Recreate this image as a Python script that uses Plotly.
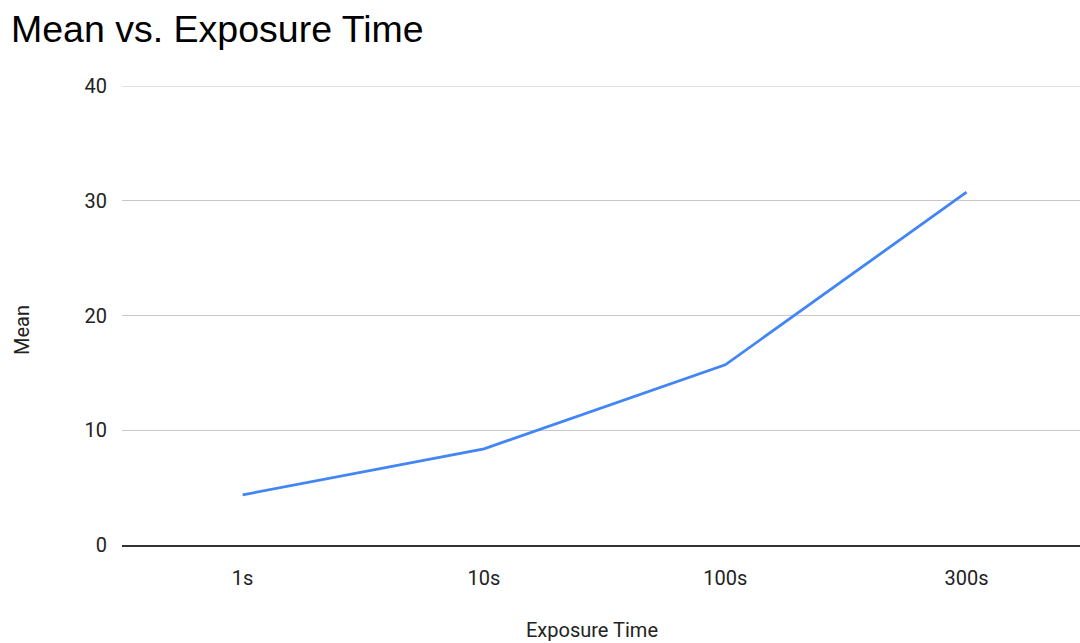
import plotly.graph_objects as go

# Exposure settings and the mean value measured at each
exposure_times = ["1s", "10s", "100s", "300s"]
mean_values = [4.37, 8.38, 15.7, 30.75]

y_ticks = [0, 10, 20, 30, 40]

W, H = 1080, 643
ML, MR, MT, MB = 122, 0, 86, 98
GRID = "#c8c8c8"

fig = go.Figure(
    go.Scatter(
        x=exposure_times,
        y=mean_values,
        mode="lines",
        line=dict(color="#4285F4", width=2.8),
        hoverinfo="x+y",
    )
)

# plotly skips the gridline sitting on the top edge of the plot, so draw it
fig.add_shape(
    type="line",
    xref="paper",
    yref="y",
    x0=0,
    x1=1,
    y0=y_ticks[-1],
    y1=y_ticks[-1],
    line=dict(color=GRID, width=1),
    layer="below",
)

fig.update_layout(
    width=W,
    height=H,
    margin=dict(l=ML, r=MR, t=MT, b=MB, pad=0),
    paper_bgcolor="white",
    plot_bgcolor="white",
    showlegend=False,
    title=dict(
        text="Mean vs. Exposure Time",
        font=dict(family="Liberation Sans, Arial, sans-serif", size=37.5, color="#000000"),
        x=11 / W,
        xanchor="left",
        xref="container",
        y=1 - 29 / H,
        yanchor="middle",
        yref="container",
    ),
    xaxis=dict(
        type="category",
        range=[-0.5, 3.47],
        showgrid=False,
        showline=True,
        linecolor="#333333",
        linewidth=1.5,
        ticks="",
        tickfont=dict(family="Roboto, Arial, sans-serif", size=20, color="#222222"),
        ticklabelstandoff=14,
        zeroline=False,
    ),
    yaxis=dict(
        range=[0, 40],
        tickvals=y_ticks,
        showgrid=True,
        gridcolor=GRID,
        gridwidth=1,
        zeroline=False,
        showline=False,
        ticks="",
        tickfont=dict(family="Roboto, Arial, sans-serif", size=20, color="#222222"),
        ticklabelstandoff=14,
    ),
    annotations=[
        dict(
            text="Exposure Time",
            xref="paper",
            yref="paper",
            x=(592 - ML) / (W - ML - MR),
            y=-(630 - (H - MB)) / (H - MT - MB),
            xanchor="center",
            yanchor="middle",
            showarrow=False,
            font=dict(family="Roboto, Arial, sans-serif", size=20, color="#222222"),
        ),
        dict(
            text="Mean",
            xref="paper",
            yref="paper",
            x=-(ML - 22) / (W - ML - MR),
            y=1 - (330 - MT) / (H - MT - MB),
            xanchor="center",
            yanchor="middle",
            textangle=-90,
            showarrow=False,
            font=dict(family="Roboto, Arial, sans-serif", size=20, color="#222222"),
        ),
    ],
)

fig.write_html("out.html")
